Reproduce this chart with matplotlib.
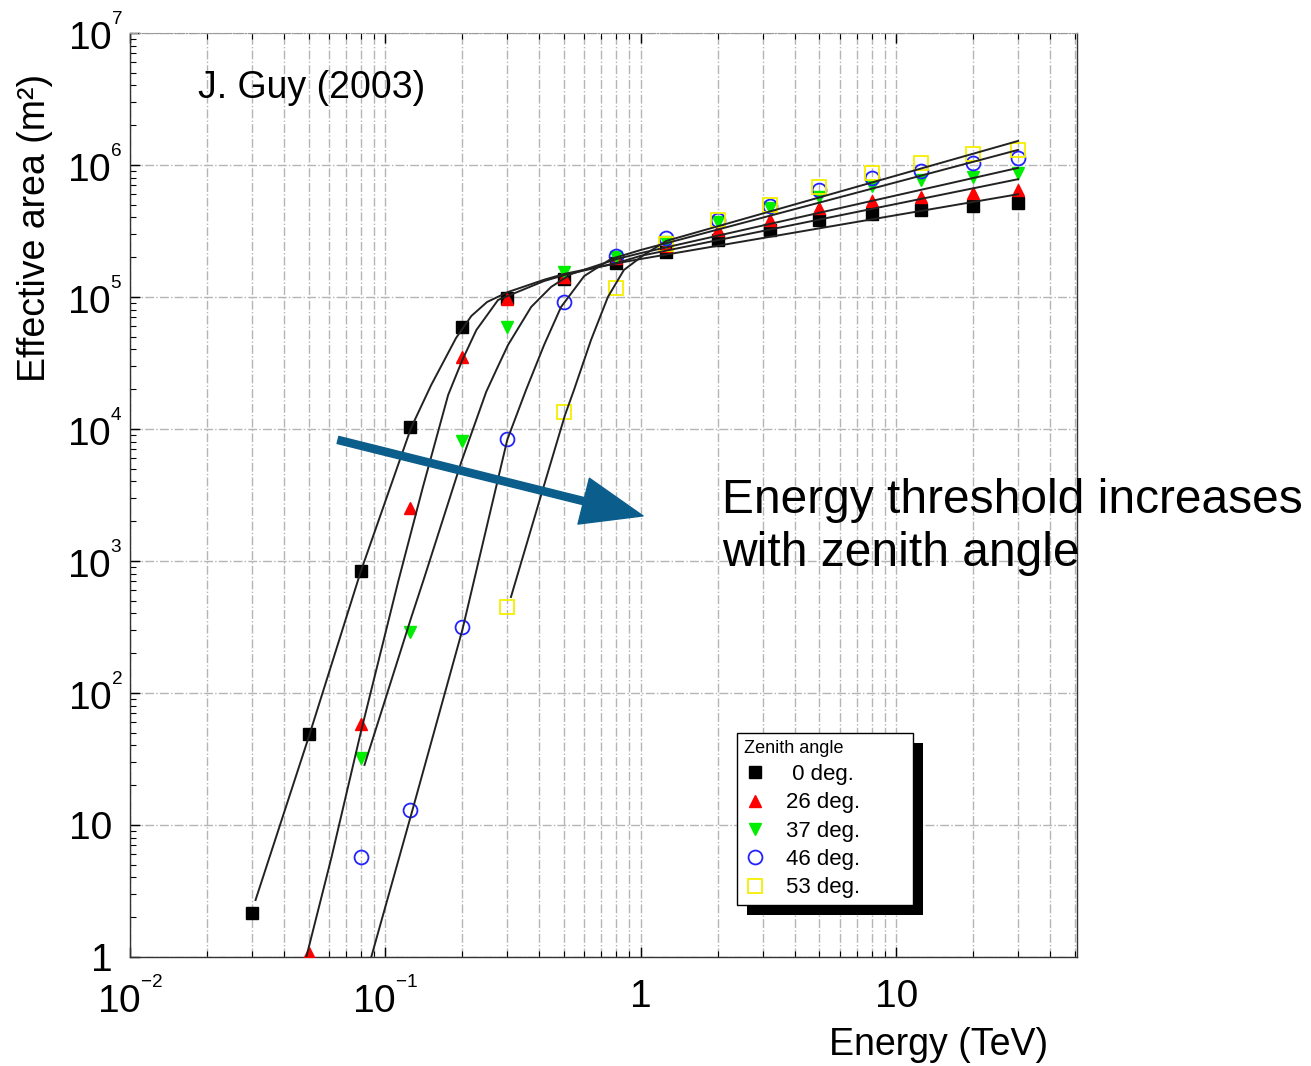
import matplotlib
matplotlib.use('Agg')
import matplotlib.pyplot as plt
from matplotlib.patches import Rectangle
from matplotlib.transforms import IdentityTransform
from matplotlib.ticker import LogLocator, NullFormatter

plt.rcParams['font.family'] = ['Liberation Sans', 'DejaVu Sans']
plt.rcParams['mathtext.fontset'] = 'custom'
plt.rcParams['mathtext.rm'] = 'Liberation Sans'
plt.rcParams['mathtext.it'] = 'Liberation Sans:italic'

# measured points, energy in TeV, effective area in m^2
energy = [0.03, 0.05, 0.08, 0.125, 0.2, 0.3, 0.5, 0.8, 1.25, 2, 3.2, 5, 8, 12.5, 20, 30]

area_0 = [2.15, 49, 840, 1.04e4, 5.9e4, 9.8e4, 1.37e5, 1.81e5, 2.19e5, 2.7e5,
          3.2e5, 3.8e5, 4.25e5, 4.56e5, 4.9e5, 5.15e5]
area_26 = [1.07, 58, 2.5e3, 3.5e4, 9.7e4, 1.42e5, 1.97e5, 2.43e5, 3.2e5,
           3.8e5, 4.7e5, 5.3e5, 5.7e5, 6.1e5, 6.5e5]
area_37 = [32, 290, 8.1e3, 5.9e4, 1.55e5, 2.0e5, 2.6e5, 3.7e5, 4.7e5,
           5.7e5, 6.9e5, 7.7e5, 8.1e5, 8.7e5]
area_46 = [5.7, 13, 316, 8.4e3, 9.2e4, 2.05e5, 2.8e5, 3.8e5, 4.9e5,
           6.5e5, 8.0e5, 9.0e5, 1.04e6, 1.13e6]
area_53 = [450, 1.35e4, 1.17e5, 2.5e5, 3.8e5, 5.0e5, 6.8e5, 8.7e5,
           1.04e6, 1.21e6, 1.3e6]

# fitted curves
fit_e_0 = [0.031, 0.05, 0.08, 0.126, 0.151, 0.189, 0.217, 0.25, 0.302, 0.418,
           0.505, 0.806, 1.0, 30]
fit_a_0 = [2.7, 46, 830, 1.02e4, 2.15e4, 4.89e4, 7.18e4, 9.16e4, 1.09e5, 1.35e5,
           1.5e5, 1.8e5, 1.94e5, 6.0e5]
fit_e_26 = [0.049, 0.0615, 0.08, 0.112, 0.14, 0.176, 0.2, 0.227, 0.276, 0.418,
            0.505, 0.806, 1.0, 30]
fit_a_26 = [1.0, 5.7, 50, 690, 3.6e3, 1.81e4, 3.33e4, 5.62e4, 9.49e4, 1.32e5,
            1.47e5, 1.81e5, 2.05e5, 7.8e5]
fit_e_37 = [0.0828, 0.126, 0.141, 0.198, 0.248, 0.274, 0.302, 0.372, 0.445,
            0.533, 0.806, 1.0, 30]
fit_a_37 = [28.5, 370, 718, 5.6e3, 1.91e4, 2.9e4, 4.33e4, 8.4e4, 1.19e5,
            1.49e5, 1.94e5, 2.15e5, 9.5e5]
fit_e_46 = [0.088, 0.126, 0.2, 0.3, 0.355, 0.418, 0.487, 0.60, 0.764, 1.0, 30]
fit_a_46 = [1.0, 11.9, 300, 8.3e3, 1.97e4, 4.33e4, 8.4e4, 1.44e5, 1.94e5,
            2.27e5, 1.3e6]
fit_e_53 = [0.31, 0.407, 0.505, 0.547, 0.638, 0.743, 0.858, 1.027, 1.26, 30]
fit_a_53 = [533, 3.16e3, 1.28e4, 1.97e4, 4.72e4, 1.0e5, 1.6e5, 2.08e5,
            2.66e5, 1.52e6]

labels = [' 0 deg.', '26 deg.', '37 deg.', '46 deg.', '53 deg.']

x_ticks = [0.01, 0.1, 1, 10]
x_tick_labels = [r'$\mathregular{10^{{}^{-2}}}$', r'$\mathregular{10^{{}^{-1}}}$', '1', '10']
y_ticks = [1, 10, 1e2, 1e3, 1e4, 1e5, 1e6, 1e7]
y_tick_labels = ['1 ', '10 '] + [r'$\mathregular{10^{{}^{%d}}}$' % k for k in range(2, 8)]


def create_graphic():
    fig = plt.figure(figsize=(13.11, 10.66), dpi=100)
    ax = fig.add_axes([0.0992, 0.1023, 0.7223, 0.8668])
    ax.set_xscale('log')
    ax.set_yscale('log')

    ax.plot(energy, area_0, 's', color='black', ms=8.5, ls='none', label=labels[0], zorder=3)
    ax.plot(energy[1:], area_26, '^', color='#ff0000', ms=9, ls='none', label=labels[1], zorder=3)
    ax.plot(energy[2:], area_37, 'v', color='#00ee00', ms=9, ls='none', label=labels[2], zorder=3)
    ax.plot(energy[2:], area_46, 'o', mfc='none', mec='#2222ff', mew=1.3, ms=10,
            ls='none', label=labels[3], zorder=3)
    ax.plot(energy[5:], area_53, 's', mfc='none', mec='#f5f000', mew=1.3, ms=10,
            ls='none', label=labels[4], zorder=3)

    for fe, fa in [(fit_e_0, fit_a_0), (fit_e_26, fit_a_26), (fit_e_37, fit_a_37),
                   (fit_e_46, fit_a_46), (fit_e_53, fit_a_53)]:
        ax.plot(fe, fa, color='#222222', lw=1.4, zorder=4)

    ax.set_xlim(0.01, 51)
    ax.set_ylim(1, 1e7)

    ax.set_xticks(x_ticks)
    ax.set_xticklabels(x_tick_labels)
    ax.set_yticks(y_ticks)
    ax.set_yticklabels(y_tick_labels)
    ax.xaxis.set_minor_locator(LogLocator(base=10, subs=range(2, 10), numticks=20))
    ax.yaxis.set_minor_locator(LogLocator(base=10, subs=range(2, 10), numticks=20))
    ax.xaxis.set_minor_formatter(NullFormatter())
    ax.yaxis.set_minor_formatter(NullFormatter())
    ax.tick_params(which='both', direction='in', top=True, right=False, labelsize=28)
    ax.tick_params(which='major', length=7, width=1)
    ax.tick_params(which='minor', length=4, width=0.8)
    ax.tick_params(axis='x', pad=16)
    ax.tick_params(axis='y', pad=5)

    ax.grid(True, which='major', axis='both', color='#b5b5b5', ls='-.', lw=1)
    ax.grid(True, which='minor', axis='x', color='#b5b5b5', ls='-.', lw=1)
    ax.set_axisbelow(True)
    for side in ['left', 'right', 'bottom']:
        ax.spines[side].set_color('#333333')
        ax.spines[side].set_linewidth(1)
    ax.spines['top'].set_color('#999999')
    ax.spines['top'].set_linestyle('-.')

    ax.text(0.072, 0.9405, 'J. Guy (2003)', transform=ax.transAxes,
            fontsize=27, va='center', ha='left')

    ax.annotate('', xy=(0.5417, 0.4773), xytext=(0.2196, 0.5595),
                xycoords='axes fraction', textcoords='axes fraction',
                arrowprops=dict(arrowstyle='simple,head_length=1.1,head_width=0.85,tail_width=0.13',
                                color='#0b5e8c', mutation_scale=40, shrinkA=0, shrinkB=0),
                zorder=6)

    fig.text(0.5507, 1 - 513 / 1066, 'Energy threshold increases', fontsize=34.5,
             ha='left', va='baseline')
    fig.text(0.5507, 1 - 566 / 1066, 'with zenith angle', fontsize=34.5,
             ha='left', va='baseline')

    fig.text(0.7994, 0.0197, 'Energy (TeV)', fontsize=27, ha='right', va='center')
    fig.text(0.0267, 0.786, 'Effective area (m²)', fontsize=27, rotation=90,
             ha='center', va='center')

    leg = ax.legend(loc='upper left', bbox_to_anchor=(0.641, 0.0617, 0.1858, 0.1807),
                    mode='expand', title='Zenith angle', fontsize=16, title_fontsize=13,
                    alignment='left', fancybox=False, framealpha=1,
                    edgecolor='black', borderpad=0.3, labelspacing=0.33,
                    handlelength=1.0, handletextpad=0.9, borderaxespad=0)
    leg.get_frame().set_linewidth(1)
    leg.set_zorder(8)

    fig.canvas.draw()
    bb = leg.get_window_extent()
    shadow = Rectangle((bb.x0 + 10, bb.y0 - 10), bb.width, bb.height,
                       facecolor='black', edgecolor='none', zorder=7)
    shadow.set_transform(IdentityTransform())
    ax.add_artist(shadow)

    fig.savefig('out.png', dpi=100)


if __name__ == '__main__':
    create_graphic()
